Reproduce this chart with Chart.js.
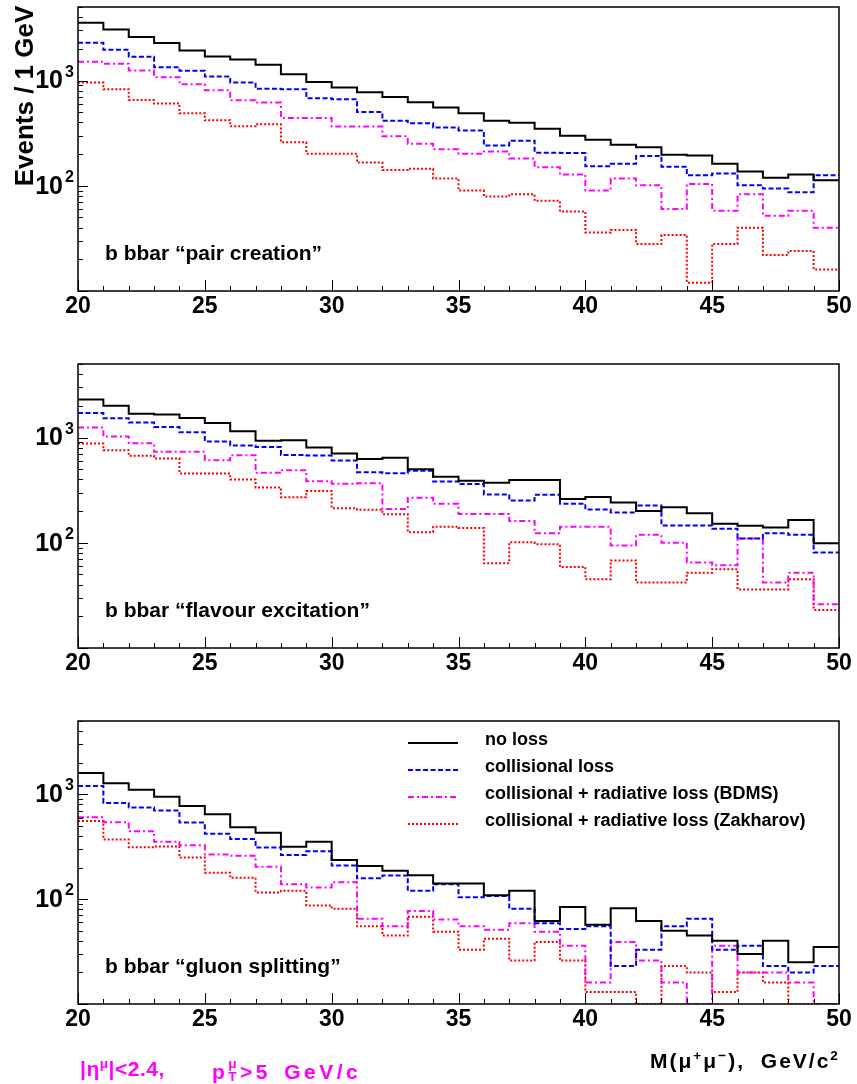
<!DOCTYPE html>
<html>
<head>
<meta charset="utf-8">
<script src="https://cdn.jsdelivr.net/npm/chart.js@4.4.0/dist/chart.umd.min.js"></script>
<style>
  html, body { margin: 0; padding: 0; background: #fff; }
  body { width: 857px; height: 1084px; position: relative; overflow: hidden;
         font-family: "Liberation Sans", Arial, sans-serif; }
  canvas { position: absolute; left: 0; }
  .note { position: absolute; font-weight: bold; font-size: 21px; white-space: nowrap; line-height: 1; }
  .stack { display: inline-block; position: relative; width: 0.55em; height: 1em; vertical-align: baseline; }
  .stack .up { position: absolute; left: 0; top: -0.1em; font-size: 0.65em; }
  .stack .dn { position: absolute; left: 0; top: 0.85em; font-size: 0.65em; }
  sup { font-size: 0.65em; vertical-align: 0.6em; line-height: 0; }
</style>
</head>
<body>
<canvas id="pairCreation" width="857" height="340" style="top:0px"></canvas>
<canvas id="flavourExcitation" width="857" height="340" style="top:355px"></canvas>
<canvas id="gluonSplitting" width="857" height="340" style="top:711px"></canvas>

<div class="note" style="left:80px; top:1058px; color:#ff00ff; letter-spacing:0.5px;">|η<sup>μ</sup>|&lt;2.4,</div>
<div class="note" style="left:212px; top:1058px; color:#ff00ff; letter-spacing:3.5px; word-spacing:4px;">p<span class="stack"><span class="up">μ</span><span class="dn">T</span></span>&gt;5 GeV/c</div>
<div class="note" style="left:650px; top:1050px; color:#000; letter-spacing:2px; word-spacing:8px;">M(μ<sup>+</sup>μ<sup>−</sup>), GeV/c<sup>2</sup></div>

<script>
// bins of 1 GeV from 20 to 50
const binEdges = [20, 21, 22, 23, 24, 25, 26, 27, 28, 29, 30, 31, 32, 33, 34, 35,
                  36, 37, 38, 39, 40, 41, 42, 43, 44, 45, 46, 47, 48, 49, 50];

const seriesNames = ['no loss', 'collisional loss',
  'collisional + radiative loss (BDMS)', 'collisional + radiative loss (Zakharov)'];

// b bbar "pair creation"
const pairNoLoss = [3540, 3060, 2590, 2270, 1930, 1690, 1585, 1410, 1150, 971, 858, 774, 699, 622, 553,
                    489, 416, 398, 349, 299, 274, 246, 232, 197, 194, 162, 137, 119, 128, 113];
const pairColl   = [2285, 1960, 1680, 1340, 1236, 1092, 957, 834, 827, 679, 664, 503, 416, 393, 357,
                    336, 242, 268, 206, 205, 153, 162, 192, 152, 126, 131, 101, 94, 87, 126];
const pairBDMS   = [1506, 1442, 1245, 1076, 923, 809, 650, 617, 441, 441, 365, 365, 295, 251, 222,
                    202, 212, 182, 150, 128, 90, 117, 101, 60, 104, 58, 83, 52, 58, 40];
const pairZakh   = [957, 827, 654, 604, 489, 419, 367, 384, 259, 202, 202, 166, 141, 145, 117,
                    90, 79, 83, 72, 57, 36, 38, 28, 34, 12, 28, 40, 22, 24, 16];

// b bbar "flavour excitation"
const flavNoLoss = [2296, 2000, 1680, 1653, 1537, 1377, 1148, 930, 944, 804, 705, 627, 641, 500, 423,
                    388, 371, 394, 394, 260, 272, 242, 200, 218, 191, 152, 145, 140, 165, 99];
const flavColl   = [1715, 1526, 1388, 1262, 1124, 916, 839, 815, 684, 674, 605, 469, 459, 483, 382,
                    361, 288, 252, 286, 235, 207, 194, 226, 146, 146, 136, 110, 123, 119, 81];
const flavBDMS   = [1244, 1022, 883, 731, 731, 609, 679, 462, 490, 385, 363, 368, 209, 268, 235,
                    188, 188, 161, 123, 142, 142, 94, 119, 100, 65, 61, 110, 42, 52, 26];
const flavZakh   = [877, 758, 670, 632, 455, 455, 399, 335, 271, 310, 213, 206, 187, 126, 142,
                    138, 64, 101, 97, 59, 45, 68, 42, 42, 52, 56, 36, 36, 45, 23];

// b bbar "gluon splitting"
const gluNoLoss = [1595, 1272, 1107, 950, 775, 646, 486, 430, 316, 353, 236, 207, 187, 169, 141,
                   141, 109, 120, 62, 84, 57, 82, 62, 50, 45, 40, 30, 40, 25, 35];
const gluColl   = [1200, 828, 747, 700, 538, 420, 374, 310, 264, 286, 209, 158, 168, 120, 139,
                   104, 107, 81, 59, 52, 55, 23, 33, 55, 65, 33, 36, 23, 20, 23];
const gluBDMS   = [605, 542, 445, 353, 326, 266, 260, 204, 139, 129, 145, 65, 55, 77, 64,
                   55, 51, 59, 49, 36, 16, 39, 26, 16, 0, 36, 20, 20, 16, 0];
const gluZakh   = [555, 371, 312, 318, 249, 179, 160, 116, 120, 87, 81, 55, 45, 68, 49,
                   33, 42, 26, 39, 26, 13, 13, 0, 23, 20, 13, 20, 16, 0, 0];

const xTickLabels = [20, 25, 30, 35, 40, 45, 50];
const yTickLabels = [100, 1000];
const Y_MIN = 10, Y_MAX = 5000;

const FONT = '"Liberation Sans", Arial, sans-serif';
const lineStyles = [
  { color: '#000000', dash: [] },
  { color: '#0000ff', dash: [5, 2.5] },
  { color: '#ff00ff', dash: [6, 3, 2, 3] },
  { color: '#ff0000', dash: [2, 2] }
];

// histogram as a stepped line through the bin edges; empty bins sit on the axis
function histPoints(values) {
  const pts = values.map((v, i) => ({ x: binEdges[i], y: v > 0 ? v : Y_MIN }));
  pts.push({ x: binEdges[binEdges.length - 1], y: pts[pts.length - 1].y });
  return pts;
}

const histFrame = {
  id: 'histFrame',
  afterDatasetsDraw(chart, args, opts) {
    const { ctx, chartArea: a, scales: { x, y } } = chart;
    ctx.save();

    ctx.strokeStyle = '#000';
    ctx.lineWidth = 1.5;
    ctx.strokeRect(a.left, a.top, a.right - a.left, a.bottom - a.top);

    // ticks point into the frame
    ctx.lineWidth = 1;
    ctx.beginPath();
    for (let v = binEdges[0]; v <= binEdges[binEdges.length - 1]; v++) {
      const px = Math.round(x.getPixelForValue(v)) + 0.5;
      const len = v % 5 === 0 ? 11 : 5;
      ctx.moveTo(px, a.bottom);
      ctx.lineTo(px, a.bottom - len);
    }
    for (let d = 10; d <= Y_MAX; d *= 10) {
      for (let k = 1; k <= 9; k++) {
        const v = k * d;
        if (v < Y_MIN || v > Y_MAX) continue;
        const py = Math.round(y.getPixelForValue(v)) + 0.5;
        ctx.moveTo(a.left, py);
        ctx.lineTo(a.left + (k === 1 ? 10 : 5), py);
      }
    }
    ctx.stroke();

    ctx.fillStyle = '#000';
    ctx.font = 'bold 23px ' + FONT;
    ctx.textAlign = 'center';
    ctx.textBaseline = 'middle';
    xTickLabels.forEach(v => ctx.fillText(String(v), x.getPixelForValue(v), a.bottom + 16));

    yTickLabels.forEach(v => {
      const py = y.getPixelForValue(v);
      ctx.font = 'bold 25px ' + FONT;
      ctx.textAlign = 'right';
      ctx.textBaseline = 'middle';
      ctx.fillText('10', a.left - 15, py + 1);
      ctx.font = 'bold 16px ' + FONT;
      ctx.textAlign = 'left';
      ctx.textBaseline = 'alphabetic';
      ctx.fillText(String(Math.round(Math.log10(v))), a.left - 13, py - 4);
    });

    ctx.font = 'bold 21px ' + FONT;
    ctx.textAlign = 'left';
    ctx.textBaseline = 'alphabetic';
    ctx.fillText(opts.title, 105, a.bottom - 31);

    if (opts.yTitle) {
      ctx.save();
      ctx.translate(33, 96);
      ctx.rotate(-Math.PI / 2);
      ctx.font = 'bold 26px ' + FONT;
      ctx.textAlign = 'center';
      ctx.fillText(opts.yTitle, 0, 0);
      ctx.restore();
    }

    if (opts.legend) {
      chart.data.datasets.forEach((ds, i) => {
        const ly = a.top + 22 + i * 27;
        ctx.strokeStyle = ds.borderColor;
        ctx.lineWidth = 2;
        ctx.setLineDash(ds.borderDash);
        ctx.beginPath();
        ctx.moveTo(408, ly);
        ctx.lineTo(458, ly);
        ctx.stroke();
        ctx.setLineDash([]);
        ctx.fillStyle = '#000';
        ctx.font = 'bold 18px ' + FONT;
        ctx.textBaseline = 'middle';
        ctx.fillText(ds.label, 485, ly - 3);
      });
    }
    ctx.restore();
  }
};

function makePanel(id, series, frameOpts, pad) {
  new Chart(document.getElementById(id), {
    type: 'line',
    data: {
      datasets: series.map((values, i) => ({
        label: seriesNames[i],
        data: histPoints(values),
        borderColor: lineStyles[i].color,
        borderDash: lineStyles[i].dash,
        borderWidth: 2,
        pointRadius: 0,
        stepped: 'before',
        fill: false
      }))
    },
    options: {
      responsive: false,
      animation: false,
      layout: { padding: pad },
      scales: {
        x: { type: 'linear', min: 20, max: 50, display: false },
        y: { type: 'logarithmic', min: Y_MIN, max: Y_MAX, display: false }
      },
      plugins: {
        legend: { display: false },
        tooltip: { enabled: false },
        histFrame: frameOpts
      }
    },
    plugins: [histFrame]
  });
}

makePanel('pairCreation', [pairNoLoss, pairColl, pairBDMS, pairZakh],
  { title: 'b bbar “pair creation”', yTitle: 'Events / 1 GeV' },
  { left: 78, right: 18, top: 7, bottom: 49 });
makePanel('flavourExcitation', [flavNoLoss, flavColl, flavBDMS, flavZakh],
  { title: 'b bbar “flavour excitation”' },
  { left: 78, right: 18, top: 9, bottom: 47 });
makePanel('gluonSplitting', [gluNoLoss, gluColl, gluBDMS, gluZakh],
  { title: 'b bbar “gluon splitting”', legend: true },
  { left: 78, right: 18, top: 10, bottom: 47 });
</script>
</body>
</html>
